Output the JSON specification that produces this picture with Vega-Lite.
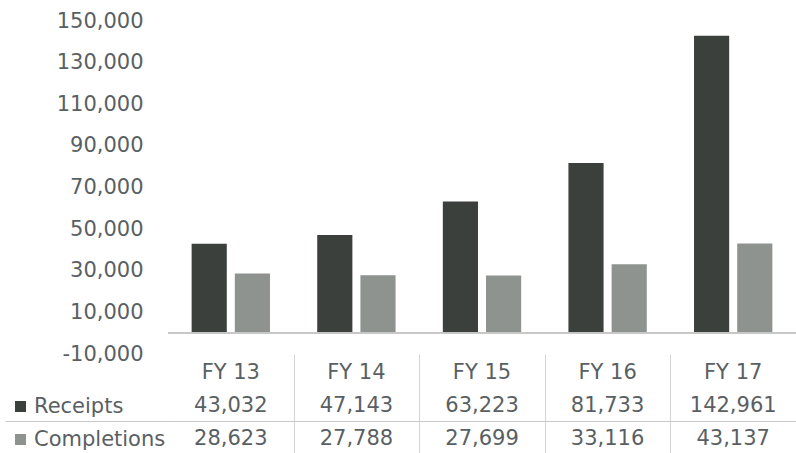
{
  "$schema": "https://vega.github.io/schema/vega-lite/v6.json",
  "padding": {"left": 0, "top": 10, "right": 0, "bottom": 0},
  "spacing": 0,
  "bounds": "flush",
  "background": "#ffffff",
  "data": {
    "values": [
      {"fy": "FY 13", "series": "Receipts", "value": 43032},
      {"fy": "FY 14", "series": "Receipts", "value": 47143},
      {"fy": "FY 15", "series": "Receipts", "value": 63223},
      {"fy": "FY 16", "series": "Receipts", "value": 81733},
      {"fy": "FY 17", "series": "Receipts", "value": 142961},
      {"fy": "FY 13", "series": "Completions", "value": 28623},
      {"fy": "FY 14", "series": "Completions", "value": 27788},
      {"fy": "FY 15", "series": "Completions", "value": 27699},
      {"fy": "FY 16", "series": "Completions", "value": 33116},
      {"fy": "FY 17", "series": "Completions", "value": 43137}
    ]
  },
  "config": {
    "view": {"stroke": null},
    "font": "DejaVu Sans",
    "axis": {"labelFont": "DejaVu Sans", "labelFontSize": 21, "labelColor": "#5a5f63", "title": null}
  },
  "vconcat": [
    {
      "width": 628,
      "height": 333,
      "layer": [
        {
          "mark": {"type": "bar"},
          "encoding": {
            "x": {
              "field": "fy", "type": "nominal",
              "sort": ["FY 13", "FY 14", "FY 15", "FY 16", "FY 17"],
              "scale": {"paddingInner": 0, "paddingOuter": 0},
              "axis": null
            },
            "xOffset": {
              "field": "series", "type": "nominal",
              "sort": ["Receipts", "Completions"],
              "scale": {"paddingInner": 0.186, "paddingOuter": 0.547}
            },
            "y": {
              "field": "value", "type": "quantitative",
              "scale": {"domain": [-10000, 150000], "nice": false, "zero": false},
              "axis": {
                "title": null, "domain": false, "ticks": false, "grid": false,
                "values": [-10000, 10000, 30000, 50000, 70000, 90000, 110000, 130000, 150000],
                "labelExpr": "replace(format(datum.value, ','), '\u2212', '-')", "labelPadding": 25, "minExtent": 168, "maxExtent": 168
              }
            },
            "color": {
              "field": "series", "type": "nominal",
              "scale": {"domain": ["Receipts", "Completions"], "range": ["#3b403c", "#8e938f"]},
              "legend": {
                "orient": "none", "legendX": -158, "legendY": 375, "title": null,
                "padding": 0, "symbolType": "square", "symbolSize": 120, "symbolStrokeWidth": 0,
                "symbolOpacity": 1, "labelFont": "DejaVu Sans", "labelFontSize": 21,
                "labelColor": "#5a5f63", "labelOffset": 3, "rowPadding": 11, "direction": "vertical"
              }
            }
          }
        },
        {
          "mark": {"type": "rule", "color": "#c8c8c8", "strokeWidth": 1},
          "encoding": {
            "y": {
              "datum": 0, "type": "quantitative",
              "axis": {
                "title": null, "domain": false, "ticks": false, "grid": false,
                "values": [-10000, 10000, 30000, 50000, 70000, 90000, 110000, 130000, 150000],
                "labelExpr": "replace(format(datum.value, ','), '\u2212', '-')", "labelPadding": 25, "minExtent": 168, "maxExtent": 168
              }
            }
          }
        }
      ]
    },
    {
      "width": 628,
      "height": 100,
      "layer": [
        {
          "transform": [{"filter": "datum.series === 'Receipts'"}],
          "mark": {"type": "text", "font": "DejaVu Sans", "fontSize": 21, "color": "#5a5f63", "align": "center", "baseline": "middle", "dy": 2},
          "encoding": {
            "x": {
              "field": "fy", "type": "nominal",
              "sort": ["FY 13", "FY 14", "FY 15", "FY 16", "FY 17"],
              "scale": {"paddingInner": 0, "paddingOuter": 0},
              "axis": {
                "orient": "bottom", "title": null, "labels": false, "ticks": false, "domain": false,
                "grid": true, "tickBand": "extent", "gridColor": "#d4d4d4",
                "values": ["FY 14", "FY 15", "FY 16", "FY 17"],
                "minExtent": 0, "maxExtent": 0
              }
            },
            "y": {
              "datum": "FY", "type": "nominal",
              "axis": {
                "title": null, "labels": false, "domain": false, "ticks": true, "tickSize": 163,
                "tickBand": "extent", "grid": true, "values": ["Completions"],
                "tickColor": "#c8c8c8", "gridColor": "#c8c8c8",
                "minExtent": 168, "maxExtent": 168
              }
            },
            "text": {"field": "fy", "type": "nominal"}
          }
        },
        {
          "mark": {"type": "text", "font": "DejaVu Sans", "fontSize": 21, "color": "#5a5f63", "align": "center", "baseline": "middle", "dy": 2},
          "encoding": {
            "x": {
              "field": "fy", "type": "nominal",
              "sort": ["FY 13", "FY 14", "FY 15", "FY 16", "FY 17"],
              "scale": {"paddingInner": 0, "paddingOuter": 0},
              "axis": {
                "orient": "bottom", "title": null, "labels": false, "ticks": false, "domain": false,
                "grid": true, "tickBand": "extent", "gridColor": "#d4d4d4",
                "values": ["FY 14", "FY 15", "FY 16", "FY 17"],
                "minExtent": 0, "maxExtent": 0
              }
            },
            "y": {
              "field": "series", "type": "nominal",
              "scale": {"domain": ["FY", "Receipts", "Completions"], "paddingInner": 0, "paddingOuter": 0},
              "axis": {
                "title": null, "labels": false, "domain": false, "ticks": true, "tickSize": 163,
                "tickBand": "extent", "grid": true, "values": ["Completions"],
                "tickColor": "#c8c8c8", "gridColor": "#c8c8c8",
                "minExtent": 168, "maxExtent": 168
              }
            },
            "text": {"field": "value", "type": "quantitative", "format": ","}
          }
        }
      ]
    }
  ]
}
